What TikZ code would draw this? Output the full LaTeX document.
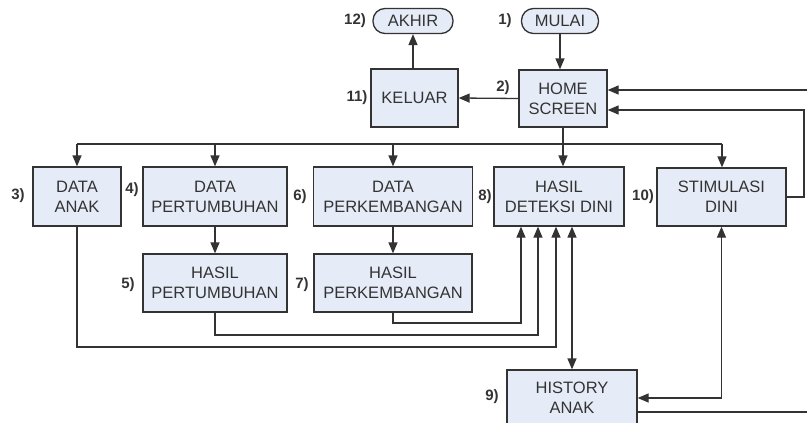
\documentclass[tikz,border=0pt]{standalone}
\usepackage{fontspec}
\setmainfont{Liberation Sans}
\usetikzlibrary{arrows.meta}
\definecolor{boxfill}{HTML}{E6ECF7}
\definecolor{linec}{HTML}{333333}
\begin{document}
\begin{tikzpicture}[x=1pt,y=-1pt,
  box/.style={draw=linec, fill=boxfill, line width=1.3pt, align=center, inner sep=0pt,
    text=linec, font=\fontsize{16.5}{20}\selectfont},
  pill/.style={box, rounded corners=12pt, minimum height=25pt},
  lbl/.style={font=\bfseries\fontsize{15}{17}\selectfont, text=linec, inner sep=0pt},
  line/.style={draw=linec, line width=1.3pt},
  arr/.style={line, -{Triangle[length=11pt,width=9pt]}},
  dbl/.style={line, {Triangle[length=11pt,width=9pt]}-{Triangle[length=11pt,width=9pt]}}]
\useasboundingbox (0,0) rectangle (807,423);
\clip (0,0) rectangle (807,423);

% nodes
\node[pill, minimum width=77pt] (mulai) at (560,21) {MULAI};
\node[pill, minimum width=80pt] (akhir) at (413,21) {AKHIR};
\node[box, minimum width=88pt, minimum height=57pt] (home) at (563,98.5) {HOME\\SCREEN};
\node[box, minimum width=87pt, minimum height=58pt] (keluar) at (414.5,98) {KELUAR};
\node[box, minimum width=88pt, minimum height=59pt] (anak) at (77,196.5) {DATA\\ANAK};
\node[box, minimum width=144pt, minimum height=59pt] (pert) at (215,196.5) {DATA\\PERTUMBUHAN};
\node[box, minimum width=159pt, minimum height=59pt] (perk) at (393,196.5) {DATA\\PERKEMBANGAN};
\node[box, minimum width=130pt, minimum height=59pt] (det) at (559,196.5) {HASIL\\DETEKSI DINI};
\node[box, minimum width=129pt, minimum height=58pt] (stim) at (721.5,197) {STIMULASI\\DINI};
\node[box, minimum width=144pt, minimum height=58pt] (hpert) at (215,283) {HASIL\\PERTUMBUHAN};
\node[box, minimum width=158pt, minimum height=58pt] (hperk) at (393,283) {HASIL\\PERKEMBANGAN};
\node[box, minimum width=130pt, minimum height=56pt] (hist) at (572,398) {HISTORY\\ANAK};

% labels
\node[lbl] (l1) at (505,21) {1)};
\node[lbl] (l12) at (355,21) {12)};
\node[lbl] (l2) at (503,88) {2)};
\node[lbl] (l11) at (357,98) {11)};
\node[lbl] (l3) at (18,196) {3)};
\node[lbl] (l4) at (132,190) {4)};
\node[lbl] (l6) at (300,197) {6)};
\node[lbl] (l8) at (485,197) {8)};
\node[lbl] (l10) at (643,197) {10)};
\node[lbl] (l5) at (128,285) {5)};
\node[lbl] (l7) at (302,285) {7)};
\node[lbl] (l9) at (492,397) {9)};

% connectors
\draw[arr] (mulai.south) -- (mulai.south |- home.north);
\draw[arr] (home.west) -- (keluar.east);
\draw[arr] (keluar.north -| akhir.south) -- (akhir.south);

\coordinate (bA) at (77,144);
\coordinate (bS) at (722,144);
\draw[line] (bA) -- (bS);
\draw[arr] (bA) -- (bA |- anak.north);
\draw[arr] (pert.north |- bA) -- (pert.north);
\draw[arr] (perk.north |- bA) -- (perk.north);
\draw[arr] (bS) -- (bS |- stim.north);
\draw[arr] (home.south) -- (home.south |- det.north);

\draw[arr] (pert.south) -- (hpert.north);
\draw[arr] (perk.south) -- (hperk.north);

\coordinate (d1) at (521,323);
\coordinate (d2) at (538,335);
\coordinate (d3) at (556,347);
\draw[arr] (hperk.south) |- (d1) -- (d1 |- det.south);
\draw[arr] (hpert.south) |- (d2) -- (d2 |- det.south);
\draw[arr] (anak.south) |- (d3) -- (d3 |- det.south);
\draw[dbl] (hist.north |- det.south) -- (hist.north);

\draw[dbl] (stim.south) |- (hist.east);

\coordinate (sr) at (804,110);
\draw[arr] (stim.east) -| (sr) -- (sr -| home.east);
\coordinate (tr) at (812,90);
\draw[arr] (tr) -- (tr -| home.east);
\coordinate (hr) at (812,412);
\draw[line] (hist.east |- hr) -- (hr);
\end{tikzpicture}
\end{document}
